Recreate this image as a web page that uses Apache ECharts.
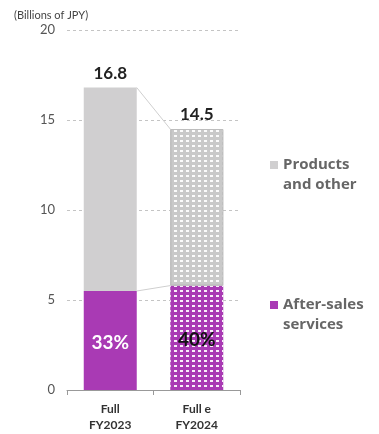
<!DOCTYPE html>
<html>
<head>
<meta charset="utf-8">
<script src="https://cdn.jsdelivr.net/npm/echarts@6/dist/echarts.min.js"></script>
<style>
  html, body { margin: 0; padding: 0; background: #fff; }
  #chart { width: 379px; height: 434px; }
</style>
</head>
<body>
<div id="chart"></div>
<script>
// Revenue split, billions of JPY
const categories = ['Full\nFY2023', 'Full e\nFY2024'];
const afterSales = [5.5, 5.8];
const products = [11.3, 8.7];
const totals = [16.8, 14.5];
const shares = ['33%', '40%'];
const yTicks = { min: 0, max: 20, interval: 5 };

const FONT = 'Lato, "Noto Sans", sans-serif';
const LEGEND_FONT = '"Open Sans", Lato, sans-serif';
const PURPLE = '#a93ab4';
const GREY = '#d0cfd0';
const BAR_W = 53;

// white dot pattern for the forecast bar
const dots = {
  symbol: 'rect',
  color: 'rgba(255,255,255,0.92)',
  symbolSize: 1,
  dashArrayX: [[2.5, 2.4]],
  dashArrayY: [2, 2.3],
  rotation: 0
};

// square marker in the top 8px of a taller box so it sits beside the first text line
const legendIcon = 'path://M0,0h8v8h-8z M0,27.99h0.01v0.01h-0.01z';

const legendText = { fontFamily: LEGEND_FONT, fontSize: 15, fontWeight: 'bold', color: '#666', lineHeight: 20 };

const chart = echarts.init(document.getElementById('chart'));

// connectors between the tops of matching segments
const connectors = [
  [0, totals[0], 1, totals[1]],
  [0, afterSales[0], 1, afterSales[1]]
];

chart.setOption({
  animation: false,
  aria: { enabled: false },
  title: {
    text: '(Billions of JPY)',
    left: 9, top: 5,
    textStyle: { fontFamily: FONT, fontSize: 11, fontWeight: 'normal', color: '#444' }
  },
  grid: { left: 67, right: 139, top: 30, bottom: 44 },
  legend: [
    {
      data: ['Products and other'],
      left: 270, top: 155, padding: 0,
      icon: legendIcon, itemWidth: 8, itemHeight: 28, itemGap: 5,
      formatter: () => 'Products\nand other',
      textStyle: legendText
    },
    {
      data: ['After-sales services'],
      left: 270, top: 295, padding: 0,
      icon: legendIcon, itemWidth: 8, itemHeight: 28, itemGap: 5,
      formatter: () => 'After-sales\nservices',
      textStyle: legendText
    }
  ],
  xAxis: {
    type: 'category',
    data: categories,
    axisLine: { lineStyle: { color: '#999', width: 1 } },
    axisTick: { show: true, length: 5, lineStyle: { color: '#999' } },
    axisLabel: {
      fontFamily: FONT, fontSize: 12, fontWeight: 'bold', color: '#333',
      lineHeight: 16, margin: 11
    }
  },
  yAxis: {
    type: 'value',
    min: yTicks.min, max: yTicks.max, interval: yTicks.interval,
    axisLine: { show: false },
    axisTick: { show: false },
    axisLabel: { fontFamily: FONT, fontSize: 13, color: '#555', margin: 12 },
    splitLine: { lineStyle: { color: '#c4c4c4', type: [3, 3], width: 1 } }
  },
  series: [
    {
      name: 'After-sales services',
      type: 'bar',
      stack: 'total',
      barWidth: BAR_W,
      itemStyle: { color: PURPLE },
      data: afterSales.map((v, i) => ({
        value: v,
        itemStyle: i === 1 ? { color: PURPLE, decal: dots } : { color: PURPLE },
        label: {
          show: true, position: 'inside', offset: [0, 2],
          formatter: shares[i],
          fontFamily: FONT, fontSize: 19, fontWeight: 'bold',
          color: i === 1 ? '#111' : '#fff'
        }
      }))
    },
    {
      name: 'Products and other',
      type: 'bar',
      stack: 'total',
      barWidth: BAR_W,
      itemStyle: { color: GREY },
      data: products.map((v, i) => ({
        value: v,
        itemStyle: i === 1 ? { color: '#c9c9c9', decal: dots, borderColor: '#bdbdbd', borderWidth: 1 } : { color: GREY },
        label: {
          show: true, position: 'top', distance: 6,
          formatter: totals[i].toFixed(1),
          fontFamily: FONT, fontSize: 17, fontWeight: 'bold', color: '#222'
        }
      }))
    },
    {
      type: 'custom',
      name: 'connectors',
      silent: true,
      z: 1,
      encode: { x: [0, 2], y: [1, 3] },
      data: connectors,
      renderItem: (params, api) => {
        const a = api.coord([api.value(0), api.value(1)]);
        const b = api.coord([api.value(2), api.value(3)]);
        return {
          type: 'line',
          shape: { x1: a[0] + BAR_W / 2, y1: a[1], x2: b[0] - BAR_W / 2, y2: b[1] },
          style: { stroke: '#cfcfcf', lineWidth: 1 }
        };
      }
    }
  ]
});
</script>
</body>
</html>
